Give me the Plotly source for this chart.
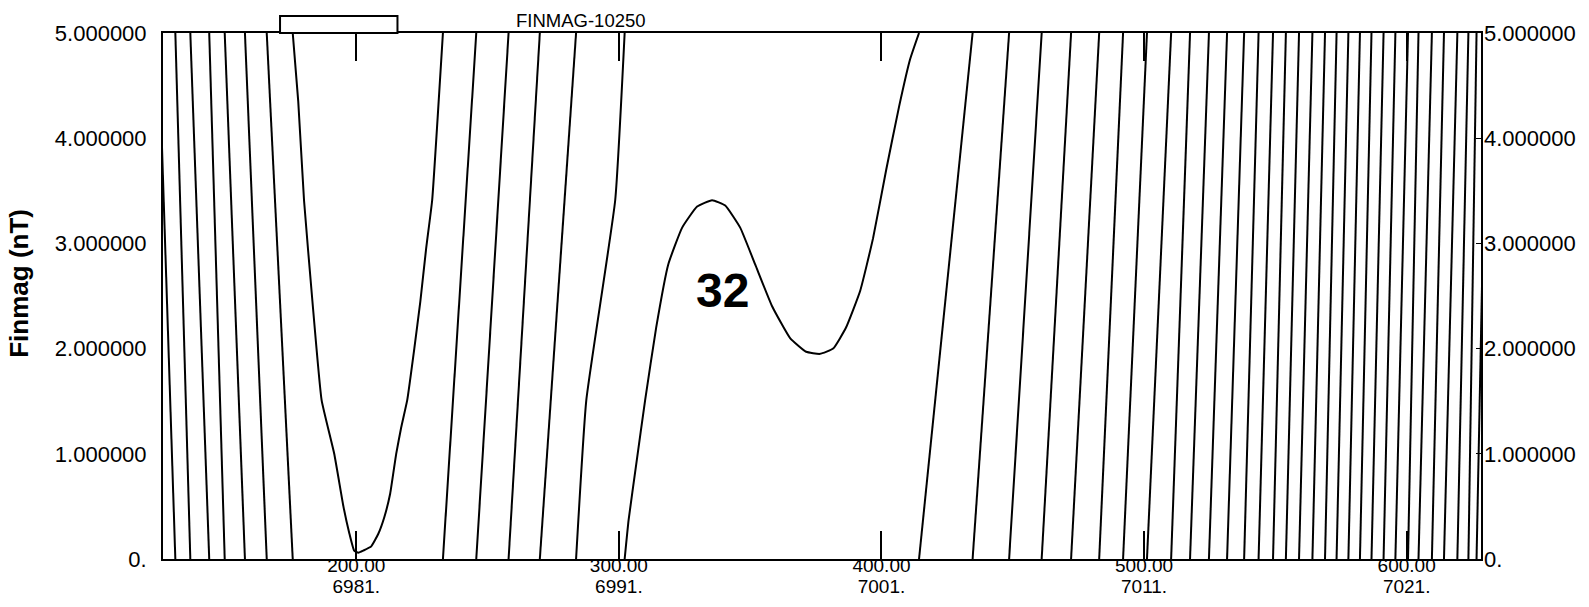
import math
import plotly.graph_objects as go

# Finmag total-field profile, line 10250, displayed wrapped every 5 nT.
# Values are the unwrapped field (nT) at fiducial positions along the line.

# steep westward gradient: fiducial where the field passes each 5 nT step
west_fid = [124.6, 131.1, 136.8, 144.0, 149.9, 157.6, 165.9]
west_nT = [40.0, 35.0, 30.0, 25.0, 20.0, 15.0, 10.0]

# V-shaped low around fiducial 200
low_fid = [175.8, 177.9, 180.1, 183.3, 186.8, 191.6, 195.1, 197.3, 199.2,
           200.8, 202.7, 205.7, 208.4, 210.7, 212.9, 215.2, 217.1, 219.4,
           222.1, 224.4, 226.6, 228.9, 231.0, 233.0]
low_nT = [5.0, 4.35, 3.41, 2.45, 1.51, 1.0, 0.5, 0.25, 0.08,
          0.06, 0.08, 0.12, 0.24, 0.4, 0.62, 1.0, 1.25, 1.51,
          2.0, 2.45, 2.95, 3.41, 4.2, 5.0]

# rising gradient between the two features
mid_fid = [245.7, 258.0, 269.9, 283.7, 287.6, 298.6]
mid_nT = [10.0, 15.0, 20.0, 25.0, 26.51, 28.41]

# local high / low pair between fiducials 300 and 415
bump_fid = [302.2, 303.7, 306.6, 310.0, 314.2, 318.8, 324.1, 329.8, 335.5,
            340.5, 346.2, 351.9, 358.4, 365.2, 371.3, 376.6, 381.6, 386.5,
            391.9, 396.8, 401.8, 406.7, 410.9, 414.3]
bump_nT = [30.0, 30.37, 30.9, 31.51, 32.2, 32.8, 33.15, 33.35, 33.41,
           33.36, 33.15, 32.8, 32.4, 32.1, 31.97, 31.95, 32.0, 32.2,
           32.55, 33.05, 33.7, 34.3, 34.75, 35.0]

# steep eastward gradient: fiducial at each 5 nT step
east_fid = [434.7, 448.6, 461.0, 472.2, 482.9, 492.0, 501.1, 510.3, 517.5,
            524.7, 531.6, 538.1, 543.6, 549.1, 554.0, 559.0, 564.1, 568.9,
            573.3, 577.8, 582.2, 586.6, 591.2, 595.7, 600.5, 604.5, 609.6,
            614.2, 619.3, 623.5, 626.6, 630.6]
east_nT = [40.0, 45.0, 50.0, 55.0, 60.0, 65.0, 70.0, 75.0, 80.0,
           85.0, 90.0, 95.0, 100.0, 105.0, 110.0, 115.0, 120.0, 125.0,
           130.0, 135.0, 140.0, 145.0, 150.0, 155.0, 160.0, 165.0, 170.0,
           175.0, 180.0, 185.0, 190.0, 195.0]

# axis annotation
fid_ticks = [200, 300, 400, 500, 600]
fid_labels = ["200.00", "300.00", "400.00", "500.00", "600.00"]
time_labels = ["6981.", "6991.", "7001.", "7011.", "7021."]
nT_ticks = [0, 1, 2, 3, 4, 5]
nT_labels = ["0.", "1.000000", "2.000000", "3.000000", "4.000000", "5.000000"]

WRAP = 5.0
X_RANGE = [126.4, 628.3]


def wrap_profile(xs, fs, period):
    """Fold an unwrapped profile into [0, period), breaking the line at each wrap."""
    px, py = [], []
    prev_band = None
    for (x0, f0), (x1, f1) in zip(zip(xs, fs), zip(xs[1:], fs[1:])):
        lo, hi = min(f0, f1), max(f0, f1)
        cuts = []
        k = math.floor(lo / period) + 1
        while k * period < hi:
            if k * period > lo:
                cuts.append(k * period)
            k += 1
        if f1 < f0:
            cuts.reverse()
        pts = [(x0, f0)] + [(x0 + (c - f0) / (f1 - f0) * (x1 - x0), c) for c in cuts] + [(x1, f1)]
        for (xa, fa), (xb, fb) in zip(pts, pts[1:]):
            band = math.floor((fa + fb) / 2 / period)
            if band != prev_band:
                if px:
                    px.append(None)
                    py.append(None)
                px.append(xa)
                py.append(fa - band * period)
                prev_band = band
            px.append(xb)
            py.append(fb - band * period)
    return px, py


fid = west_fid + low_fid + mid_fid + bump_fid + east_fid
field = west_nT + low_nT + mid_nT + bump_nT + east_nT
wx, wy = wrap_profile(fid, field, WRAP)

FONT = "Liberation Sans, Arial, sans-serif"
TICKFONT = dict(family=FONT, size=22, color="black")
XTICKFONT = dict(family=FONT, size=19, color="black")

fig = go.Figure()
fig.add_trace(go.Scatter(x=wx, y=wy, mode="lines",
                         line=dict(color="black", width=2, shape="spline",
                                   smoothing=0.4),
                         hoverinfo="skip", showlegend=False))
# keep the secondary axes populated so they are drawn
fig.add_trace(go.Scatter(x=[None], y=[None], xaxis="x2", yaxis="y2",
                         showlegend=False, hoverinfo="skip"))

fig.update_layout(
    width=1589, height=607,
    margin=dict(l=163, r=108, t=33, b=48, autoexpand=False),
    paper_bgcolor="white", plot_bgcolor="white",
    font=dict(family=FONT, size=22, color="black"),
    showlegend=False,
    xaxis=dict(
        range=X_RANGE, showgrid=False, zeroline=False, automargin=False,
        showline=True, linecolor="black", linewidth=2, mirror="ticks",
        ticks="inside", ticklen=28, tickwidth=2, tickcolor="black",
        tickvals=fid_ticks, ticktext=fid_labels, tickfont=XTICKFONT,
        ticklabelstandoff=-12,
    ),
    # second row of x labels: recorder time at each fiducial tick
    xaxis2=dict(
        range=X_RANGE, overlaying="x", anchor="y", side="bottom",
        showgrid=False, zeroline=False, showline=False, automargin=False,
        ticks="", tickvals=fid_ticks, ticktext=time_labels, tickfont=XTICKFONT,
        ticklabelstandoff=14,
    ),
    yaxis=dict(
        range=[0, WRAP], showgrid=False, zeroline=False, automargin=False,
        showline=True, linecolor="black", linewidth=2, mirror=True,
        ticks="", tickvals=nT_ticks, ticktext=nT_labels, tickfont=TICKFONT,
        ticklabelstandoff=10,
    ),
    yaxis2=dict(
        range=[0, WRAP], overlaying="y", side="right", anchor="x",
        showgrid=False, zeroline=False, showline=False, automargin=False,
        ticks="inside", ticklen=5, tickwidth=1, tickcolor="black",
        tickvals=nT_ticks, ticktext=nT_labels, tickfont=TICKFONT,
        ticklabelstandoff=2,
    ),
    shapes=[dict(type="rect", xref="paper", yref="paper",
                 x0=0.0888, x1=0.1779, y0=1.0, y1=1.0323,
                 line=dict(color="black", width=2), fillcolor="white")],
    annotations=[
        dict(text="FINMAG-10250", xref="paper", yref="paper",
             x=0.266, y=1.0, xanchor="left", yanchor="bottom", yshift=0,
             showarrow=False, font=dict(family=FONT, size=18.5, color="black")),
        dict(text="<b>Finmag (nT)</b>", xref="paper", yref="paper",
             x=-0.1093, y=0.525, xanchor="center", yanchor="middle",
             textangle=-90, showarrow=False,
             font=dict(family=FONT, size=26, color="black")),
        dict(text="<b>32</b>", x=339.5, y=2.53, xref="x", yref="y",
             xanchor="center", yanchor="middle", showarrow=False, yshift=2,
             font=dict(family=FONT, size=48, color="black")),
    ],
)

fig.write_html("out.html")
